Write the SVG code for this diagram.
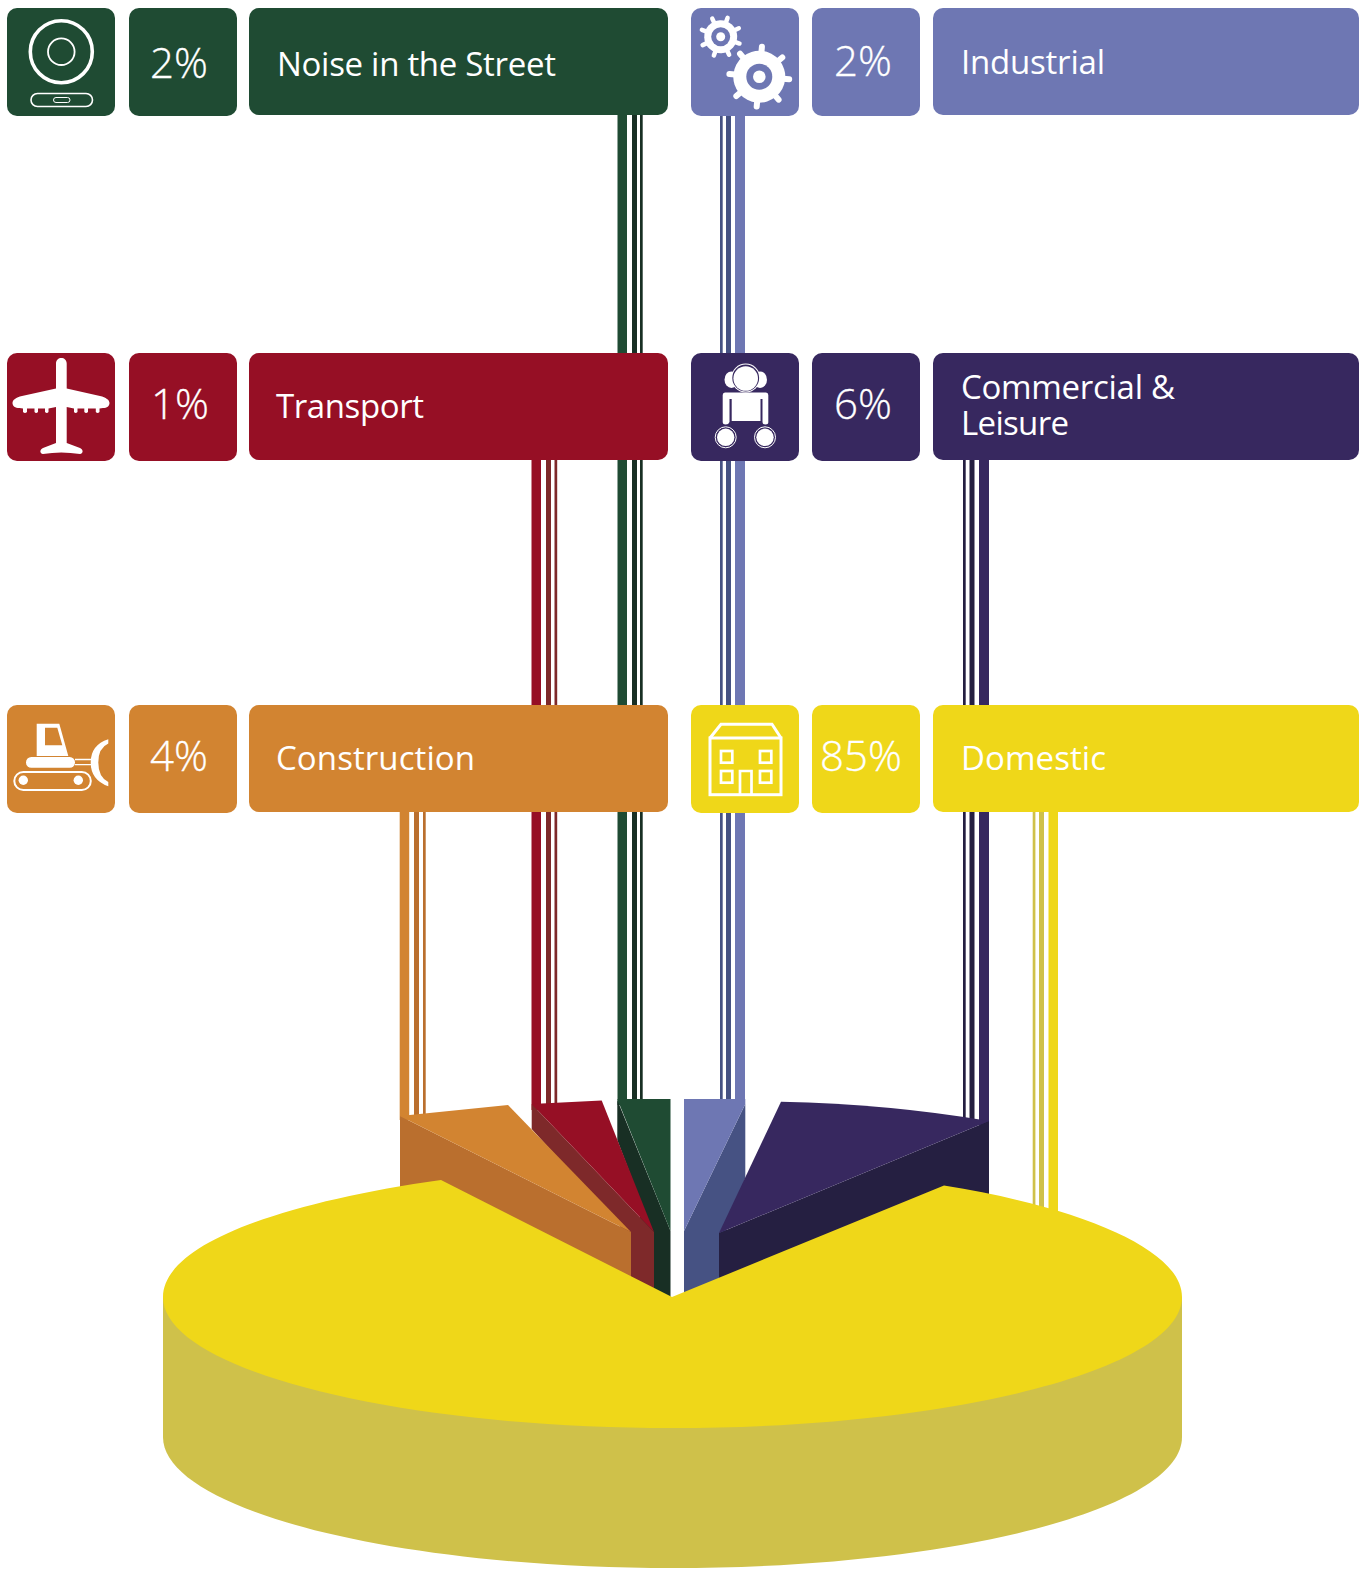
<svg xmlns="http://www.w3.org/2000/svg" width="1370" height="1570" viewBox="0 0 1370 1570">
<style>
.pct{font-family:"Open Sans","Noto Sans",sans-serif;font-weight:300;font-size:42px;fill:#fff;stroke:#fff;stroke-width:.3px}
.lbl{font-family:"Open Sans","Noto Sans",sans-serif;font-weight:400;font-size:33px;fill:#fff}
.green{fill:#1f4b33}.green-d{fill:#182f24}
.peri{fill:#6e77b3}.peri-d{fill:#465283}
.red{fill:#960f25}.red-d{fill:#7e292a}
.purple{fill:#37285f}.purple-d{fill:#251f41}
.orange{fill:#d28431}.orange-d{fill:#ba6f2e}
.yellow{fill:#efd719}.yellow-d{fill:#cfc14a}
.w{fill:#fff}
.wl{fill:none;stroke:#fff}
</style>
<g id="connectors">
<g id="c-street"><rect class="green" x="617.5" y="110" width="9.5" height="995"/><rect class="green-d" x="632" y="110" width="5" height="995"/><rect class="green-d" x="640" y="110" width="2.7" height="995"/></g>
<g id="c-industrial"><rect class="peri-d" x="720" y="110" width="2.7" height="995"/><rect class="peri-d" x="726" y="110" width="5" height="995"/><rect class="peri" x="735" y="110" width="10" height="995"/></g>
<g id="c-transport"><rect class="red" x="531.5" y="455" width="9.5" height="655"/><rect class="red-d" x="546" y="455" width="5" height="650"/><rect class="red-d" x="554.5" y="455" width="2.7" height="650"/></g>
<g id="c-commercial"><rect class="purple-d" x="963" y="455" width="2.7" height="665"/><rect class="purple-d" x="969.5" y="455" width="5" height="665"/><rect class="purple" x="979" y="455" width="10" height="670"/></g>
<g id="c-construction"><rect class="orange" x="399.7" y="805" width="9.5" height="315"/><rect class="orange-d" x="414" y="805" width="5" height="310"/><rect class="orange-d" x="423" y="805" width="2.7" height="310"/></g>
<g id="c-domestic"><rect class="yellow-d" x="1032.7" y="805" width="2.7" height="410"/><rect class="yellow-d" x="1039" y="805" width="5" height="410"/><rect class="yellow" x="1048.5" y="805" width="9.5" height="415"/></g>
</g>
<g id="pie">
<path class="yellow-d" d="M163 1297V1437C163 1509 391 1568 672.5 1568S1182 1509 1182 1437V1297Z"/>
<path class="green-d" d="M617.3 1100L670.5 1231V1310H640V1200L617.3 1140Z"/>
<path class="green" d="M617.3 1099H670.5V1231Z"/>
<path class="red-d" d="M531.7 1104L654 1232V1310H625V1232L531.7 1129Z"/>
<path class="red" d="M531.7 1104L601.7 1100.5L654 1232Z"/>
<path class="orange-d" d="M400 1116L631 1232V1310L400 1200Z"/>
<path class="orange" d="M400 1116L508 1105L631 1232Z"/>
<path class="peri-d" d="M745.3 1104L684 1231V1310H725V1233L745.3 1178Z"/>
<path class="peri" d="M684 1099H745.3V1104L684 1231Z"/>
<path class="purple-d" d="M989 1121L719 1233V1300H989Z"/>
<path class="purple" d="M781 1101.7Q890 1104 989 1121L719 1233Z"/>
<path class="yellow" d="M441 1180L672 1297L944 1185.500C1084 1208 1182 1250 1182 1297C1182 1369 954 1428 672.500 1428S163 1369 163 1297C163 1245 278 1203 441 1180Z"/>
</g>
<g id="node-street">
<rect class="green" x="7" y="8" width="108" height="108" rx="10"/>
<rect class="green" x="129" y="8" width="108" height="108" rx="10"/>
<rect class="green" x="249" y="8" width="419" height="107" rx="10"/>
<circle class="wl" cx="61.300" cy="51.700" r="31" stroke-width="3.600"/>
<circle class="wl" cx="61.300" cy="51.700" r="13.300" stroke-width="1.800"/>
<rect class="wl" x="31" y="93.500" width="61.500" height="13" rx="6.500" stroke-width="1.600"/>
<rect class="wl" x="53.500" y="97.500" width="16.500" height="5" rx="2.500" stroke-width="1"/>
<text class="pct" x="150" y="78">2%</text>
<text class="lbl" x="277" y="76" textLength="279">Noise in the Street</text>
</g>
<g id="node-industrial">
<rect class="peri" x="691" y="8" width="108" height="108" rx="10"/>
<rect class="peri" x="812" y="8" width="108" height="108" rx="10"/>
<rect class="peri" x="933" y="8" width="426" height="107" rx="10"/>
<g transform="translate(720.700 36.700) rotate(20)" stroke="#fff" stroke-width="4.500" stroke-linecap="round">
<path d="M0 -20V20M-20 0H20M-14.100 -14.100L14.100 14.100M-14.100 14.100L14.100 -14.100"/>
<circle r="16.500" class="w" stroke="none"/></g>
<circle cx="720.700" cy="36.700" r="9.500" class="peri"/><circle cx="720.700" cy="36.700" r="4.500" class="w"/>
<g transform="translate(759.300 76.700) rotate(5)" stroke="#fff" stroke-width="6" stroke-linecap="round">
<path d="M0 -30V30M-30 0H30M-21.200 -21.200L21.200 21.200M-21.200 21.200L21.200 -21.200"/>
<circle r="26" class="w" stroke="none"/></g>
<circle cx="759.300" cy="76.700" r="13" class="peri"/><circle cx="759.300" cy="76.700" r="6.300" class="w"/>
<text class="pct" x="834" y="75.500">2%</text>
<text class="lbl" x="961" y="74" textLength="144">Industrial</text>
</g>
<g id="node-transport">
<rect class="red" x="7" y="353" width="108" height="108" rx="10"/>
<rect class="red" x="129" y="353" width="108" height="108" rx="10"/>
<rect class="red" x="249" y="353" width="419" height="107" rx="10"/>
<path class="w" d="M56 363.500C56 360 58.500 358 61.300 358S66.700 360 66.700 363.500V388.500L100 396C106 397.500 109.500 400 109.500 403C109.500 406 107 408 103 408L99.500 408.500V412Q97.500 414 95.800 412V408.500L88 408.500V412Q86 414 84.300 412V408.500L77.500 408.500V412Q75.500 414 74 412V408.500L66.700 407V443L80 448C83.500 449.500 83.500 453.500 80 454Q61 451 43 454C39.500 453.500 39.500 449.500 43 448L56 443V407L48.500 408.500V412Q47 414 45 412V408.500L38 408.500V412Q36 414 34.500 412V408.500L27 408.500V412Q25 414 23 412V408.500L19.500 408C15 408 12.500 406 12.500 403C12.500 400 16 397.500 22 396L56 388.500Z"/>
<text class="pct" x="151" y="419">1%</text>
<text class="lbl" x="276" y="418" textLength="148">Transport</text>
</g>
<g id="node-commercial">
<rect class="purple" x="691" y="353" width="108" height="108" rx="10"/>
<rect class="purple" x="812" y="353" width="108" height="108" rx="10"/>
<rect class="purple" x="933" y="353" width="426" height="107" rx="10"/>
<ellipse class="w" cx="731.500" cy="379.700" rx="7" ry="8.300"/>
<ellipse class="w" cx="760" cy="379.700" rx="7" ry="8.300"/>
<circle class="w" cx="745.700" cy="378" r="14.400"/>
<circle class="purple" cx="745.700" cy="378" r="13.400"/>
<circle class="w" cx="745.700" cy="378.500" r="12.300"/>
<path class="w" d="M725 392.500Q722.700 392.500 722.700 395V422Q722.700 424.500 725.700 424.500T729.500 422V399H731.700V421H760.500V399H762.500V422Q762.500 424.500 765.500 424.500T768.300 422V395Q768.300 392.500 766 392.500Z"/>
<circle class="wl" cx="725.700" cy="437.300" r="10.500" stroke-width="1"/><circle class="w" cx="725.700" cy="437.300" r="8.700"/>
<circle class="wl" cx="765" cy="437.300" r="10.500" stroke-width="1"/><circle class="w" cx="765" cy="437.300" r="8.700"/>
<text class="pct" x="834" y="419">6%</text>
<text class="lbl" x="961" y="399" textLength="214">Commercial &amp;</text>
<text class="lbl" x="961" y="435" textLength="108">Leisure</text>
</g>
<g id="node-construction">
<rect class="orange" x="7" y="705" width="108" height="108" rx="10"/>
<rect class="orange" x="129" y="705" width="108" height="108" rx="10"/>
<rect class="orange" x="249" y="705" width="419" height="107" rx="10"/>
<path class="w" fill-rule="evenodd" d="M36.700 723.700H59.300L68.300 756H36.700ZM45 727.700V745.300H62.300L57.300 727.700Z"/>
<rect class="w" x="26" y="757" width="49" height="10.700" rx="5.300"/>
<path class="wl" stroke-width="1.300" d="M75 759.500H92M75 764.700H92"/>
<path class="w" d="M108.300 739.300Q90.700 745 90.700 762.500Q90.700 780 108.300 786.300V782Q98.300 777 98.300 762.500Q98.300 748 108.300 743.500Z"/>
<rect class="wl" x="14.300" y="772" width="76.500" height="18" rx="9" stroke-width="2"/>
<circle class="w" cx="23.300" cy="780.300" r="4.700"/><circle class="w" cx="78.300" cy="780.300" r="4.700"/>
<text class="pct" x="150" y="771">4%</text>
<text class="lbl" x="276" y="770" textLength="199">Construction</text>
</g>
<g id="node-domestic">
<rect class="yellow" x="691" y="705" width="108" height="108" rx="10"/>
<rect class="yellow" x="812" y="705" width="108" height="108" rx="10"/>
<rect class="yellow" x="933" y="705" width="426" height="107" rx="10"/>
<g class="wl" stroke-width="3">
<rect x="710" y="738" width="71" height="56.700"/>
<path d="M710 738L721 724.300H772L781 738"/>
<rect x="721" y="751" width="11.300" height="11.700" stroke-width="2.700"/>
<rect x="760" y="751" width="11.300" height="11.700" stroke-width="2.700"/>
<rect x="721" y="771" width="11.300" height="11.700" stroke-width="2.700"/>
<rect x="760" y="771" width="11.300" height="11.700" stroke-width="2.700"/>
<path d="M740 794.700V771H751.500V794.700" stroke-width="2.700"/>
</g>
<text class="pct" x="820" y="771">85%</text>
<text class="lbl" x="961" y="770" textLength="145">Domestic</text>
</g>
</svg>
